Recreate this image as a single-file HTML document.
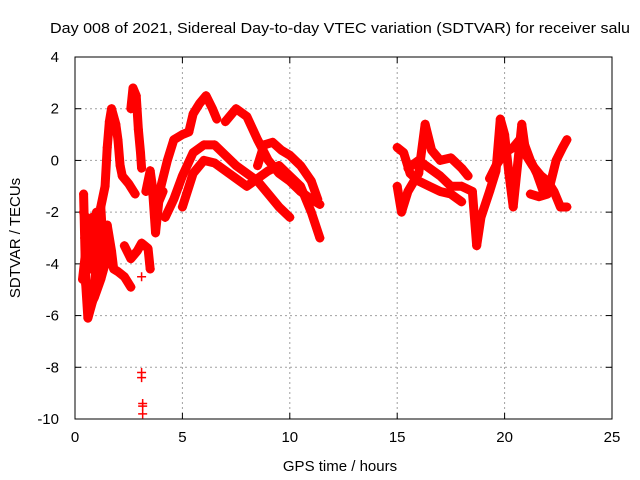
<!DOCTYPE html>
<html><head><meta charset="utf-8"><style>
body{margin:0;background:#fff;}
svg{display:block;font-family:"Liberation Sans",sans-serif;}
</style></head><body>
<svg id="chart" width="640" height="480" viewBox="0 0 640 480">
<rect width="640" height="480" fill="#fff"/>
<text x="50" y="33" font-size="15" fill="#000" textLength="580" lengthAdjust="spacingAndGlyphs">Day 008 of 2021, Sidereal Day-to-day VTEC variation (SDTVAR) for receiver salu</text>
<g id="grid"></g>
<g id="ticks"></g>
<g id="marks"></g>
<rect x="75" y="57" width="537" height="362" fill="none" stroke="#000" stroke-width="1"/>
<text x="340" y="471" font-size="15" text-anchor="middle">GPS time / hours</text>
<text transform="translate(20,238) rotate(-90)" font-size="15" text-anchor="middle">SDTVAR / TECUs</text>
</svg>
<script>
const xTicks=[0,5,10,15,20,25];
const yTicks=[4,2,0,-2,-4,-6,-8,-10];
const trackA1=[[0.4,-1.3],[0.45,-3],[0.5,-4.8],[0.6,-6.1],[0.8,-5.5],[1.0,-4],[1.2,-3],[1.0,-2],[1.4,-3.5],[1.6,-4],[1.3,-3.5],[1.5,-2.5],[1.7,-3.5],[1.8,-4.2],[2.0,-4.3],[2.3,-4.5],[2.6,-4.9]];
const trackA2=[[0.5,-4],[0.8,-3.2],[1.1,-2.6],[1.3,-3.2],[1.2,-1.8],[1.4,-1.0],[1.5,0.5],[1.6,1.5],[1.7,2.0],[1.9,1.4],[2.0,0.8],[2.1,-0.2],[2.2,-0.6],[2.5,-0.9],[2.8,-1.3]];
const trackA3=[[0.35,-4.6],[0.5,-3.5],[0.7,-4.2],[0.9,-3.0],[0.8,-2.2],[1.0,-3.8],[1.3,-4.3],[1.5,-3.7],[1.2,-4.6],[0.9,-5.3],[0.6,-5.8]];
const trackA4=[[0.4,-2.0],[0.6,-2.5],[0.7,-3.6],[1.1,-4.0],[1.4,-3.0],[1.7,-3.9]];
const trackC=[[2.6,2.0],[2.7,2.8],[2.85,2.5],[2.95,1.2],[3.05,0.3],[3.1,-0.3]];
const trackC2=[[3.3,-1.2],[3.5,-0.4],[3.6,-1.0],[3.7,-2.2],[3.75,-2.8],[3.9,-1.6],[4.1,-1.2]];
const trackD=[[2.3,-3.3],[2.6,-3.8],[2.9,-3.5],[3.1,-3.2],[3.4,-3.4],[3.5,-4.2]];
const isolated=[[3.1,-4.5],[3.1,-8.2],[3.1,-8.4],[3.15,-9.4],[3.15,-9.5],[3.15,-9.8]];
const trackE=[[3.8,-1.6],[4.0,-1],[4.3,0],[4.6,0.8],[5.0,1.0],[5.3,1.1],[5.5,1.8],[5.8,2.2],[6.1,2.5],[6.4,2.0],[6.6,1.6]];
const trackE2=[[7.0,1.5],[7.5,2.0],[8.0,1.7],[8.5,0.8],[9,0],[9.5,-0.5],[10,-0.8],[10.5,-1.2],[11,-1.5],[11.4,-1.7]];
const trackF=[[4.2,-2.2],[4.6,-1.5],[5.0,-0.6],[5.5,0.3],[6.0,0.6],[6.5,0.6],[7.0,0.2],[7.5,-0.2],[8,-0.5],[8.5,-0.8],[9,-1.3],[9.5,-1.8],[10,-2.2]];
const trackG=[[5,-1.8],[5.5,-0.5],[6,0],[6.5,-0.1],[7,-0.4],[7.5,-0.7],[8,-1],[8.5,-0.7],[9,-0.4],[9.5,-0.2],[10,-0.6],[10.5,-1],[11,-2],[11.4,-3]];
const trackH=[[8.5,-0.2],[8.8,0.6],[9.2,0.7],[9.6,0.4],[10,0.2],[10.5,-0.2],[11,-0.8],[11.3,-1.5]];
const trackI=[[15,0.5],[15.3,0.3],[15.6,-0.5],[16,-0.8],[16.5,-1],[17,-1.2],[17.5,-1.3],[18,-1.6]];
const trackJ=[[15,-1.0],[15.2,-2],[15.5,-1.2],[16,-0.5],[16.3,1.4],[16.6,0.4],[17,0],[17.5,0.1],[18,-0.3],[18.3,-0.6]];
const trackK=[[15.5,-0.3],[16,0.0],[16.5,-0.3],[17,-0.6],[17.5,-1.0],[18,-1.0],[18.5,-1.2],[18.7,-3.3],[18.9,-2.2],[19.3,-1.2],[19.6,-0.4],[19.8,1.6],[20.0,1.0],[20.2,-0.5],[20.4,-1.8],[20.6,-0.2],[20.8,1.4],[21,0.2],[21.3,-0.2],[21.7,-0.6],[22,-0.8],[22.3,-1.2],[22.6,-1.8],[22.9,-1.8]];
const trackL=[[19.3,-0.7],[19.6,-0.2],[20,0.3],[20.4,0.5],[20.8,0.9],[21.2,0.0],[21.5,-0.5],[21.8,-1.2],[22.1,-1.0],[22.4,0.0],[22.7,0.5],[22.9,0.8]];
const trackM=[[21.2,-1.3],[21.6,-1.4],[22,-1.3]];
const tracks=[trackA1,trackA2,trackA3,trackA4,trackC,trackC2,trackD,trackE,trackE2,trackF,trackG,trackH,trackI,trackJ,trackK,trackL,trackM];

const X0=75,X1=612,Y0=57,Y1=419;
function xs(v){return X0+(v-0)/(25-0)*(X1-X0);}
function ys(v){return Y0+(4-v)/(4-(-10))*(Y1-Y0);}
const NS="http://www.w3.org/2000/svg";
function mk(tag,attrs,parent){const e=document.createElementNS(NS,tag);for(const k in attrs)e.setAttribute(k,attrs[k]);parent.appendChild(e);return e;}
const grid=document.getElementById('grid'),ticks=document.getElementById('ticks'),marks=document.getElementById('marks');
xTicks.forEach(t=>{
  const x=xs(t);
  if(t>0&&t<25){const g=mk('line',{x1:x,x2:x,y1:Y0,y2:Y1,stroke:'#a0a0a0','stroke-dasharray':'2,3'},grid);
  
  }
  mk('line',{x1:x,x2:x,y1:Y1,y2:Y1-6,stroke:'#000'},ticks);
  mk('line',{x1:x,x2:x,y1:Y0,y2:Y0+6,stroke:'#000'},ticks);
  const l=mk('text',{x:x,y:Y1+23,'font-size':15,'text-anchor':'middle'},ticks);l.textContent=t;
  
  
});
yTicks.forEach(t=>{
  const y=ys(t);
  if(t<4&&t>-10){const g=mk('line',{x1:X0,x2:X1,y1:y,y2:y,stroke:'#a0a0a0','stroke-dasharray':'2,3'},grid);
  
  }
  mk('line',{x1:X0,x2:X0+6,y1:y,y2:y,stroke:'#000'},ticks);
  mk('line',{x1:X1,x2:X1-6,y1:y,y2:y,stroke:'#000'},ticks);
  const l=mk('text',{x:X0-16,y:y+5,'font-size':15,'text-anchor':'end'},ticks);l.textContent=t;
  
  
});
function plus(x,y){
  const m=mk('path',{d:`M${x-4.5},${y}H${x+4.5}M${x},${y-4.5}V${y+4.5}`,stroke:'#f00','stroke-width':1.5},marks);
  
  
}
tracks.forEach(tr=>{
  const pts=tr.map(p=>xs(p[0])+','+ys(p[1])).join(' ');
  const pl=mk('polyline',{points:pts,fill:'none',stroke:'#f00','stroke-width':9,'stroke-linejoin':'round','stroke-linecap':'round'},marks);
  
  
  tr.forEach(p=>plus(xs(p[0]),ys(p[1])));
});
isolated.forEach(p=>plus(xs(p[0]),ys(p[1])));
</script>
</body></html>
